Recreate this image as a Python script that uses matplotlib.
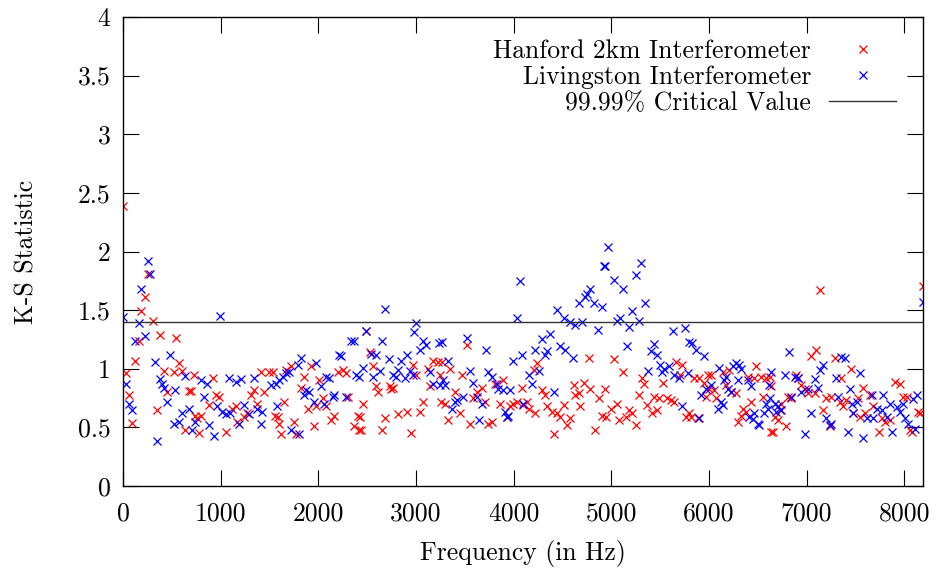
"""K-S statistic vs frequency for the two LIGO interferometers (gnuplot-style look)."""

import matplotlib
matplotlib.use("Agg")
import matplotlib.pyplot as plt
from matplotlib.ticker import FuncFormatter, MultipleLocator

RED = "#FF0000"
BLUE = "#0000FF"

# Hanford 2km interferometer: (frequency in Hz, K-S statistic)
hanford_freq = [
    0, 31, 58, 92, 126, 160, 189, 222, 256, 307, 348, 382, 416, 450, 519, 546, 570, 603,
    638, 672, 700, 723, 740,
    761, 778, 795, 881, 925, 949, 983, 1051, 1119, 1154, 1171, 1239, 1273, 1307, 1341,
    1375, 1409, 1443, 1495, 1540, 1553,
    1584, 1601, 1618, 1652, 1669, 1721, 1755, 1772, 1823, 1857, 1891, 1925, 1959, 1976,
    2010, 2044, 2078, 2130, 2164, 2198, 2249, 2283, 2300, 2369, 2403, 2413,
    2423, 2433, 2457, 2492, 2526, 2560, 2594, 2611, 2652, 2686, 2730, 2747, 2764, 2815,
    2911, 2945, 2969, 3004, 3038, 3072, 3123, 3140, 3174, 3225, 3242, 3259,
    3263, 3297, 3331, 3349, 3400, 3451, 3468, 3519, 3553, 3587, 3621, 3673, 3707, 3741,
    3775, 3809, 3860, 3894, 3928, 3963, 3997, 4031, 4082, 4099,
    4137, 4154, 4205, 4223, 4240, 4291, 4325, 4342, 4393, 4410, 4444, 4478, 4512, 4547,
    4581, 4615, 4632, 4666, 4683, 4718, 4769, 4786, 4837, 4871, 4905, 4939, 4950,
    4993, 5027, 5062, 5079, 5123, 5147, 5181, 5215, 5249, 5283, 5317, 5334, 5369, 5420,
    5437, 5471, 5488, 5532, 5573, 5607, 5642, 5659, 5703, 5727, 5762, 5796,
    5816, 5850, 5884, 5902, 5953, 5970, 5987, 6004, 6021, 6055, 6072, 6141, 6175, 6209,
    6226, 6277, 6294, 6328, 6345, 6379, 6396, 6430, 6465, 6482, 6533, 6550, 6584, 6635,
    6622, 6640, 6656, 6673, 6707, 6724, 6741, 6793, 6810, 6844, 6895, 6912, 6946, 6980,
    7014, 7042, 7083, 7100, 7134, 7168, 7202, 7236, 7253, 7288, 7339, 7356, 7373, 7407,
    7458,
    7475, 7529, 7546, 7580, 7597, 7649, 7683, 7744, 7768, 7802, 7853, 7905, 7956, 7990,
    8024, 8058, 8075, 8144, 8161, 8192,
]
hanford_ks = [
    2.39, 0.96, 0.78, 0.54, 1.07, 1.24, 1.49, 1.61, 1.81, 1.41, 0.65, 1.29, 0.98, 0.80,
    0.97, 1.26, 1.05, 0.98, 0.48, 0.81, 0.81, 0.95, 0.60,
    0.58, 0.45, 0.60, 0.69, 0.92, 0.78, 0.76, 0.46, 0.66, 0.68, 0.55, 0.59, 0.62, 0.78,
    0.82, 0.70, 0.97, 0.80, 0.97, 0.97, 0.60,
    0.59, 0.53, 0.44, 0.72, 0.99, 1.02, 0.55, 0.44, 0.84, 0.93, 0.66, 1.02, 0.51, 0.68,
    0.90, 0.75, 0.68, 0.56, 0.60, 0.97, 0.99, 0.96, 0.76, 0.51, 0.60, 0.48,
    0.59, 0.48, 0.70, 1.32, 1.14, 1.02, 0.85, 0.80, 0.48, 0.58, 0.85, 0.83, 0.84, 0.61,
    0.63, 0.45, 1.03, 0.95, 0.63, 0.72, 1.00, 0.85, 1.07, 1.06, 0.95, 0.72,
    1.06, 0.70, 0.56, 1.00, 0.80, 0.62, 0.95, 1.20, 0.53, 0.75, 0.80, 0.84, 0.72, 0.53,
    0.55, 0.87, 0.70, 0.90, 0.59, 0.68, 0.70, 0.72, 0.84, 0.69,
    0.72, 0.66, 0.99, 0.62, 1.05, 0.82, 0.78, 0.68, 0.63, 0.44, 0.62, 0.59, 0.69, 0.52,
    0.58, 0.86, 0.78, 0.79, 0.68, 0.88, 1.09, 0.83, 0.48, 0.75, 0.60, 0.83, 0.59,
    0.66, 1.08, 0.70, 0.56, 0.97, 0.59, 0.65, 0.62, 0.52, 0.78, 0.92, 0.87, 0.69, 0.62,
    0.76, 0.65, 0.75, 0.88, 0.75, 0.73, 0.72, 1.06, 0.95, 1.03, 0.59, 0.62,
    0.59, 0.92, 0.58, 0.92, 0.88, 0.76, 0.95, 0.83, 0.95, 0.82, 0.75, 0.97, 0.86, 0.99,
    0.80, 0.79, 0.55, 0.60, 0.66, 0.63, 0.93, 0.72, 0.92, 1.02, 0.93, 0.76, 0.92, 0.46,
    0.93, 0.85, 0.46, 0.59, 0.56, 0.65, 0.70, 0.51, 0.76, 0.75, 0.95, 0.92, 0.86, 0.83,
    0.79, 1.11, 0.79, 1.16, 1.67, 0.65, 0.75, 0.51, 0.76, 1.09, 0.72, 0.92, 0.68, 0.73,
    1.00,
    0.62, 0.75, 0.59, 0.84, 0.62, 0.78, 0.68, 0.46, 0.58, 0.55, 0.56, 0.89, 0.87, 0.76,
    0.76, 0.48, 0.46, 0.63, 0.62, 1.71,
]

# Livingston interferometer
livingston_freq = [
    0, 31, 58, 92, 126, 160, 189, 222, 256, 280, 324, 348, 383, 400, 416, 450, 478, 519,
    536, 570, 604, 639, 672, 706, 740,
    795, 829, 864, 881, 932, 966, 993, 1017, 1051, 1085, 1100, 1154, 1188, 1212, 1239,
    1290, 1341, 1375, 1409, 1427, 1519, 1563, 1580,
    1601, 1635, 1669, 1703, 1721, 1789, 1806, 1823, 1857, 1874, 1908, 1959, 1976, 2027,
    2061, 2079, 2113, 2147, 2164, 2215, 2232, 2283, 2335, 2369, 2386, 2420,
    2457, 2492, 2536, 2560, 2594, 2628, 2652, 2686, 2720, 2764, 2799, 2815, 2850, 2884,
    2911, 2935, 2969, 2980, 3004, 3038, 3072, 3106, 3140, 3174, 3232, 3242,
    3263, 3280, 3297, 3331, 3366, 3400, 3417, 3485, 3519, 3553, 3587, 3621, 3649, 3673,
    3717, 3741, 3775, 3826, 3843, 3894, 3911, 3928, 3946, 3963, 3997, 4031, 4065, 4082,
    4099,
    4161, 4189, 4223, 4257, 4291, 4325, 4342, 4376, 4410, 4444, 4478, 4512, 4530, 4581,
    4608, 4632, 4666, 4700, 4735, 4752, 4786, 4820, 4864, 4905, 4922, 4939, 4970,
    5027, 5062, 5089, 5123, 5157, 5181, 5215, 5249, 5283, 5307, 5341, 5376, 5403, 5437,
    5464, 5498, 5522, 5539, 5591, 5635, 5642, 5693, 5727, 5751, 5790, 5796,
    5826, 5867, 5895, 5919, 5953, 5970, 6021, 6089, 6106, 6123, 6141, 6158, 6175, 6192,
    6226, 6243, 6277, 6294, 6311, 6328, 6396, 6413, 6430, 6447, 6465, 6499, 6516, 6567,
    6584, 6601, 6618, 6635,
    6622, 6673, 6690, 6707, 6741, 6775, 6816, 6844, 6878, 6912, 6946, 6980, 7014, 7042,
    7083, 7117, 7134, 7168, 7202, 7236, 7253, 7304, 7322, 7356, 7390, 7424, 7441,
    7461, 7478, 7512, 7546, 7580, 7614, 7666, 7683, 7717, 7768, 7785, 7819, 7853, 7870,
    7922, 7956, 7990, 8007, 8041, 8093, 8110, 8127, 8192,
]
livingston_ks = [
    1.44, 0.87, 0.70, 0.65, 1.24, 1.39, 1.68, 1.28, 1.92, 1.81, 1.06, 0.38, 0.91, 0.87,
    0.84, 0.72, 1.12, 0.53, 0.82, 0.55, 0.62, 0.94, 0.66, 0.48, 0.55,
    0.90, 0.76, 0.87, 0.52, 0.43, 0.68, 1.45, 0.63, 0.61, 0.92, 0.62, 0.89, 0.53, 0.91,
    0.69, 0.61, 0.92, 0.66, 0.53, 0.63, 0.86, 0.87, 0.68,
    0.90, 0.93, 0.96, 0.97, 0.48, 1.03, 0.44, 1.09, 0.78, 0.82, 0.80, 0.72, 1.05, 0.85,
    0.70, 0.93, 0.92, 0.76, 0.78, 1.12, 1.11, 0.76, 1.24, 1.24, 0.95, 0.93,
    1.01, 1.32, 1.13, 0.93, 1.12, 0.98, 1.24, 1.51, 1.08, 0.95, 0.93, 0.99, 1.07, 0.92,
    1.12, 0.98, 0.95, 1.31, 1.39, 1.16, 1.24, 1.20, 0.97, 0.87, 1.22, 0.86,
    1.23, 0.90, 0.86, 1.07, 0.66, 0.72, 0.73, 0.76, 1.26, 0.98, 0.88, 0.76, 0.56, 0.70,
    1.16, 0.97, 0.93, 0.87, 0.83, 0.82, 0.63, 0.59, 0.60, 0.82, 1.07, 1.43, 1.75, 1.12,
    0.70,
    0.95, 0.87, 1.16, 0.98, 1.25, 1.12, 1.15, 1.30, 0.80, 1.50, 1.19, 1.43, 1.16, 1.40,
    1.09, 1.37, 1.56, 1.40, 1.61, 1.64, 1.68, 1.56, 1.33, 1.53, 1.88, 1.88, 2.04,
    1.76, 1.41, 1.43, 1.68, 1.19, 1.36, 1.49, 1.80, 1.41, 1.90, 1.56, 0.98, 1.15, 1.21,
    1.12, 1.03, 0.97, 1.00, 1.02, 1.32, 0.95, 0.92, 0.68, 1.35, 0.96, 1.23,
    1.22, 1.16, 0.58, 0.78, 1.11, 0.83, 0.86, 0.66, 1.01, 0.72, 0.69, 0.90, 0.93, 0.83,
    0.80, 1.02, 1.05, 0.90, 1.03, 1.00, 0.90, 0.59, 0.85, 0.57, 0.62, 0.53, 0.52, 0.62,
    0.70, 0.66, 0.86, 0.97,
    0.75, 0.70, 0.63, 0.68, 0.65, 0.95, 1.14, 0.76, 0.93, 0.92, 0.80, 0.44, 0.83, 0.62,
    0.91, 0.84, 0.99, 1.03, 0.58, 0.52, 0.53, 0.92, 0.76, 1.10, 1.09, 0.46, 0.83,
    0.70, 0.62, 0.72, 0.96, 0.41, 0.58, 0.78, 0.58, 0.66, 0.65, 0.78, 0.59, 0.70, 0.46,
    0.67, 0.63, 0.70, 0.58, 0.53, 0.74, 0.49, 0.78, 1.57,
]

critical_value = 1.40
x_range = (0, 8192)
y_range = (0, 4)


def main():
    plt.rcParams["font.family"] = ["cmr10", "DejaVu Serif"]
    plt.rcParams["axes.formatter.use_mathtext"] = True

    fig = plt.figure(figsize=(9.40, 5.69), dpi=100)
    ax = fig.add_axes([123 / 940, 1 - 486 / 569, 800 / 940, 469 / 569])

    mk = dict(linestyle="none", marker="x", markersize=6.3, markeredgewidth=0.9)
    ax.plot(hanford_freq, hanford_ks, color=RED,
            label="Hanford 2km Interferometer", **mk)
    ax.plot(livingston_freq, livingston_ks, color=BLUE,
            label="Livingston Interferometer", **mk)
    ax.axhline(critical_value, color="#333333", linewidth=1.0,
               label="99.99% Critical Value")

    ax.set_xlim(*x_range)
    ax.set_ylim(*y_range)
    ax.xaxis.set_major_locator(MultipleLocator(1000))
    ax.yaxis.set_major_locator(MultipleLocator(0.5))
    ax.yaxis.set_major_formatter(FuncFormatter(lambda v, p: f"{v:g}"))
    ax.xaxis.set_major_formatter(FuncFormatter(lambda v, p: f"{v:g}"))

    fs = 18.5
    ax.tick_params(direction="in", length=11.5, width=0.8, labelsize=fs,
                   top=True, right=True)
    ax.tick_params(axis="x", pad=11)
    ax.tick_params(axis="y", pad=9)
    for s in ax.spines.values():
        s.set_linewidth(1.0)

    ax.set_xlabel("Frequency (in Hz)", fontsize=fs, labelpad=11)
    ax.set_ylabel("K-S Statistic", fontsize=fs, labelpad=28)

    ax.legend(loc="upper right", bbox_to_anchor=(0.979, 0.975), frameon=False,
              markerfirst=False, fontsize=fs, handlelength=2.6, handletextpad=0.7,
              labelspacing=0.1, borderaxespad=0.0)

    fig.savefig("out.png", dpi=100, facecolor="white")
    plt.close(fig)


if __name__ == "__main__":
    main()
